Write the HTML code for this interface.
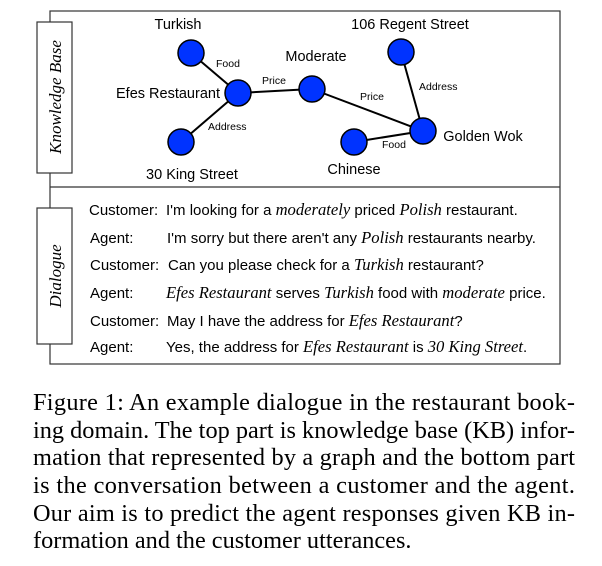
<!DOCTYPE html>
<html><head><meta charset="utf-8"><style>
html,body{margin:0;padding:0;background:#fff;}
svg{display:block;}
.n{font-family:"Liberation Sans",sans-serif;font-size:14.5px;fill:#000;}
.e{font-family:"Liberation Sans",sans-serif;font-size:10.5px;fill:#000;}
.d{font-family:"Liberation Sans",sans-serif;font-size:15px;fill:#000;}
.i{font-family:"Liberation Serif",serif;font-style:italic;font-size:16.6px;}
.c{font-family:"Liberation Serif",serif;font-size:24.3px;fill:#000;}
</style></head><body>
<svg width="602" height="566" viewBox="0 0 602 566">
<rect x="50" y="11" width="510" height="353" fill="none" stroke="#333" stroke-width="1.2"/>
<line x1="50" y1="187" x2="560" y2="187" stroke="#333" stroke-width="1.2"/>
<rect x="37" y="22" width="35" height="151" fill="#fff" stroke="#333" stroke-width="1.2"/>
<rect x="37" y="208" width="35" height="136" fill="#fff" stroke="#333" stroke-width="1.2"/>
<text transform="translate(61,97) rotate(-90)" text-anchor="middle" font-family="Liberation Serif,serif" font-style="italic" font-size="17">Knowledge Base</text>
<text transform="translate(61,276) rotate(-90)" text-anchor="middle" font-family="Liberation Serif,serif" font-style="italic" font-size="17">Dialogue</text>
<g stroke="#000" stroke-width="2">
<line x1="191" y1="53" x2="238" y2="93"/>
<line x1="181" y1="142" x2="238" y2="93"/>
<line x1="238" y1="93" x2="312" y2="89"/>
<line x1="312" y1="89" x2="423" y2="131"/>
<line x1="401" y1="52" x2="423" y2="131"/>
<line x1="354" y1="142" x2="423" y2="131"/>
</g>
<g fill="#0033ff" stroke="#000" stroke-width="1.5">
<circle cx="191" cy="53" r="13"/>
<circle cx="238" cy="93" r="13"/>
<circle cx="181" cy="142" r="13"/>
<circle cx="312" cy="89" r="13"/>
<circle cx="401" cy="52" r="13"/>
<circle cx="423" cy="131" r="13"/>
<circle cx="354" cy="142" r="13"/>
</g>
<text class="n" x="178" y="29" text-anchor="middle">Turkish</text>
<text class="n" x="168" y="98" text-anchor="middle">Efes Restaurant</text>
<text class="n" x="192" y="179" text-anchor="middle">30 King Street</text>
<text class="n" x="316" y="61" text-anchor="middle">Moderate</text>
<text class="n" x="410" y="29" text-anchor="middle">106 Regent Street</text>
<text class="n" x="483" y="141" text-anchor="middle">Golden Wok</text>
<text class="n" x="354" y="174" text-anchor="middle">Chinese</text>
<text class="e" x="216" y="67">Food</text>
<text class="e" x="262" y="84">Price</text>
<text class="e" x="208" y="130">Address</text>
<text class="e" x="360" y="100">Price</text>
<text class="e" x="419" y="90">Address</text>
<text class="e" x="382" y="148">Food</text>
<g class="d">
<text x="89" y="215">Customer:</text><text x="166" y="215">I'm looking for a <tspan class="i">moderately</tspan> priced <tspan class="i">Polish</tspan> restaurant.</text>
<text x="90" y="243">Agent:</text><text x="167" y="243">I'm sorry but there aren't any <tspan class="i">Polish</tspan> restaurants nearby.</text>
<text x="90" y="270">Customer:</text><text x="168" y="270">Can you please check for a <tspan class="i">Turkish</tspan> restaurant?</text>
<text x="90" y="298">Agent:</text><text x="166" y="298"><tspan class="i">Efes Restaurant</tspan> serves <tspan class="i">Turkish</tspan> food with <tspan class="i">moderate</tspan> price.</text>
<text x="90" y="326">Customer:</text><text x="167" y="326">May I have the address for <tspan class="i">Efes Restaurant</tspan>?</text>
<text x="90" y="352">Agent:</text><text x="166" y="352">Yes, the address for <tspan class="i">Efes Restaurant</tspan> is <tspan class="i">30 King Street</tspan>.</text>
</g>
<g class="c">
<text x="33" y="410" textLength="542" lengthAdjust="spacing">Figure 1: An example dialogue in the restaurant book-</text>
<text x="33" y="438" textLength="542" lengthAdjust="spacing">ing domain. The top part is knowledge base (KB) infor-</text>
<text x="33" y="465" textLength="542" lengthAdjust="spacing">mation that represented by a graph and the bottom part</text>
<text x="33" y="493" textLength="542" lengthAdjust="spacing">is the conversation between a customer and the agent.</text>
<text x="33" y="521" textLength="542" lengthAdjust="spacing">Our aim is to predict the agent responses given KB in-</text>
<text x="33" y="548">formation and the customer utterances.</text>
</g>
</svg>
</body></html>
